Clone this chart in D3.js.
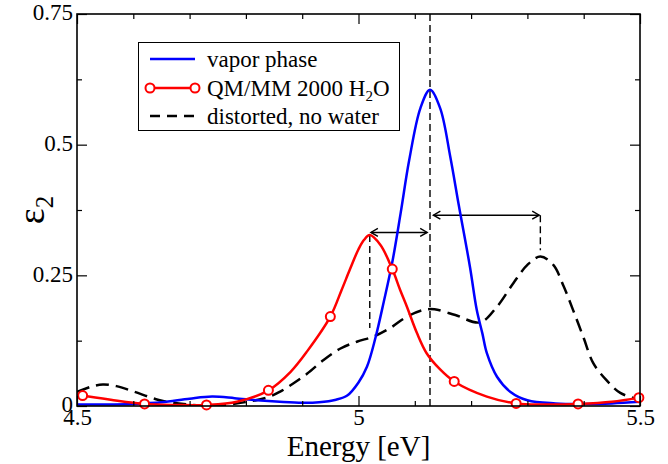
<!DOCTYPE html>
<html>
<head>
<meta charset="utf-8">
<script src="https://cdn.jsdelivr.net/npm/d3@7"></script>
<style>
  body { margin: 0; background: #fff; }
  svg { display: block; }
  text { font-family: "Liberation Serif", "DejaVu Serif", "Times New Roman", serif; fill: #000; }
</style>
</head>
<body>
<svg id="chart" width="668" height="464"></svg>
<script>
/* eps2 spectra: vapor, QM/MM, distorted */

const vaporE = [4.50, 4.55, 4.60, 4.65, 4.70, 4.74, 4.78, 4.82, 4.86, 4.90, 4.93, 4.96, 4.98, 5.00, 5.015, 5.03, 5.045, 5.06, 5.075, 5.09, 5.11, 5.127, 5.145, 5.163, 5.178, 5.198, 5.21, 5.22, 5.228, 5.246, 5.27, 5.30, 5.35, 5.40, 5.45, 5.50];
const vaporV = [0.003, 0.003, 0.004, 0.007, 0.014, 0.018, 0.015, 0.011, 0.008, 0.006, 0.007, 0.012, 0.02, 0.045, 0.075, 0.13, 0.2, 0.275, 0.37, 0.47, 0.57, 0.605, 0.57, 0.477, 0.385, 0.266, 0.184, 0.139, 0.101, 0.056, 0.027, 0.011, 0.005, 0.004, 0.005, 0.008];

const qmmmE = [4.50, 4.51, 4.56, 4.62, 4.677, 4.73, 4.784, 4.84, 4.879, 4.909, 4.95, 4.97, 4.985, 5.00, 5.01, 5.02, 5.039, 5.06, 5.074, 5.086, 5.104, 5.121, 5.145, 5.17, 5.228, 5.28, 5.33, 5.39, 5.45, 5.498];
const qmmmV = [0.022, 0.020, 0.012, 0.004, 0.002, 0.002, 0.008, 0.03, 0.065, 0.105, 0.171, 0.222, 0.262, 0.3, 0.318, 0.327, 0.308, 0.262, 0.222, 0.19, 0.139, 0.101, 0.07, 0.047, 0.018, 0.005, 0.003, 0.004, 0.008, 0.016];
const markE = [4.51, 4.62, 4.73, 4.84, 4.95, 5.06, 5.17, 5.28, 5.39, 5.498];

const distE = [4.50, 4.525, 4.546, 4.57, 4.60, 4.647, 4.695, 4.74, 4.79, 4.837, 4.86, 4.884, 4.909, 4.938, 4.968, 4.997, 5.027, 5.056, 5.086, 5.116, 5.135, 5.172, 5.216, 5.246, 5.275, 5.30, 5.323, 5.346, 5.364, 5.381, 5.40, 5.417, 5.44, 5.465, 5.50];
const distV = [0.027, 0.037, 0.041, 0.038, 0.028, 0.011, 0.003, 0.0, 0.006, 0.016, 0.027, 0.043, 0.062, 0.088, 0.11, 0.123, 0.133, 0.149, 0.171, 0.184, 0.185, 0.174, 0.16, 0.19, 0.235, 0.27, 0.286, 0.27, 0.23, 0.184, 0.13, 0.082, 0.05, 0.025, 0.012];

const xMajor = [4.5, 5, 5.5];
const xMinor = [4.6, 4.7, 4.8, 4.9, 5.1, 5.2, 5.3, 5.4];
const yMajor = [0, 0.25, 0.5, 0.75];
const yMinor = [0.125, 0.375, 0.625];

// vertical reference line and shift arrows
const vlineE = 5.127;
const dropLines = [{ e: 5.02, y0: 0.327, y1: 0.149 }, { e: 5.323, y0: 0.365, y1: 0.298 }];
const arrows = [{ e0: 5.022, e1: 5.122, v: 0.332 }, { e0: 5.133, e1: 5.321, v: 0.365 }];

const legendNames = ["vapor phase", "QM/MM 2000 H", "distorted, no water"];

const W = 668, H = 464;
const M = { top: 14, right: 28, bottom: 58, left: 77 };

const svg = d3.select("#chart");
const x = d3.scaleLinear().domain([4.5, 5.5]).range([M.left, W - M.right]);
const y = d3.scaleLinear().domain([0, 0.75]).range([H - M.bottom, M.top]);

const toPts = (es, vs) => es.map((e, i) => [e, vs[i]]);
const line = d3.line().x((d) => x(d[0])).y((d) => y(d[1])).curve(d3.curveCatmullRom.alpha(0.5));

const pBottom = y(0), pTop = y(0.75), pLeft = x(4.5), pRight = x(5.5);

const plot = svg.append("g");
plot.append("clipPath").attr("id", "clip")
  .append("rect").attr("x", pLeft).attr("y", pTop)
  .attr("width", pRight - pLeft).attr("height", pBottom - pTop);

/* ---------- reference lines ---------- */
plot.append("line")
  .attr("x1", x(vlineE)).attr("x2", x(vlineE))
  .attr("y1", pTop).attr("y2", pBottom)
  .attr("stroke", "#000").attr("stroke-width", 1.4).attr("stroke-dasharray", "7,4");

dropLines.forEach((d) => {
  plot.append("line")
    .attr("x1", x(d.e)).attr("x2", x(d.e))
    .attr("y1", y(d.y0)).attr("y2", y(d.y1))
    .attr("stroke", "#000").attr("stroke-width", 1.4).attr("stroke-dasharray", "7,4");
});

arrows.forEach((a) => {
  const x0 = x(a.e0), x1 = x(a.e1), yy = y(a.v);
  const g = plot.append("g").attr("stroke", "#000").attr("stroke-width", 1.4).attr("fill", "none");
  g.append("line").attr("x1", x0).attr("x2", x1).attr("y1", yy).attr("y2", yy);
  g.append("path").attr("d", `M${x0 + 7},${yy - 4}L${x0},${yy}L${x0 + 7},${yy + 4}`);
  g.append("path").attr("d", `M${x1 - 7},${yy - 4}L${x1},${yy}L${x1 - 7},${yy + 4}`);
});

/* ---------- curves ---------- */
const curves = plot.append("g").attr("clip-path", "url(#clip)");
curves.append("path").datum(toPts(distE, distV))
  .attr("d", line).attr("fill", "none").attr("stroke", "#000")
  .attr("stroke-width", 2.5).attr("stroke-dasharray", "13,7");
curves.append("path").datum(toPts(vaporE, vaporV))
  .attr("d", line).attr("fill", "none").attr("stroke", "#0000ff").attr("stroke-width", 2.5);
curves.append("path").datum(toPts(qmmmE, qmmmV))
  .attr("d", line).attr("fill", "none").attr("stroke", "#ff0000").attr("stroke-width", 2.5);

plot.append("g").selectAll("circle")
  .data(markE)
  .join("circle")
  .attr("cx", (e) => x(e))
  .attr("cy", (e) => y(qmmmV[qmmmE.indexOf(e)]))
  .attr("r", 4.5)
  .attr("fill", "#fff").attr("stroke", "#ff0000").attr("stroke-width", 2);

/* ---------- axes (inward ticks, all four sides) ---------- */
function styleAxis(g) {
  g.select(".domain").remove();
  g.selectAll("line").attr("stroke", "#000").attr("stroke-width", 1.2);
  g.selectAll("text").attr("font-size", 23).attr("font-family", "Liberation Serif, DejaVu Serif, serif");
}

svg.append("g").attr("transform", `translate(0,${pBottom})`)
  .call(d3.axisBottom(x).tickValues(xMajor).tickSize(-10).tickPadding(3).tickFormat(d3.format("")))
  .call(styleAxis);
svg.append("g").attr("transform", `translate(0,${pBottom})`)
  .call(d3.axisBottom(x).tickValues(xMinor).tickSize(-5).tickFormat(""))
  .call(styleAxis);
svg.append("g").attr("transform", `translate(0,${pTop})`)
  .call(d3.axisTop(x).tickValues(xMajor).tickSize(-10).tickFormat(""))
  .call(styleAxis);
svg.append("g").attr("transform", `translate(0,${pTop})`)
  .call(d3.axisTop(x).tickValues(xMinor).tickSize(-5).tickFormat(""))
  .call(styleAxis);

svg.append("g").attr("transform", `translate(${pLeft},0)`)
  .call(d3.axisLeft(y).tickValues(yMajor).tickSize(-10).tickPadding(4).tickFormat(d3.format("")))
  .call(styleAxis)
  .call((g) => g.selectAll("text").attr("dy", "0.25em"));
svg.append("g").attr("transform", `translate(${pLeft},0)`)
  .call(d3.axisLeft(y).tickValues(yMinor).tickSize(-5).tickFormat(""))
  .call(styleAxis);
svg.append("g").attr("transform", `translate(${pRight},0)`)
  .call(d3.axisRight(y).tickValues(yMajor).tickSize(-10).tickFormat(""))
  .call(styleAxis);
svg.append("g").attr("transform", `translate(${pRight},0)`)
  .call(d3.axisRight(y).tickValues(yMinor).tickSize(-5).tickFormat(""))
  .call(styleAxis);

svg.append("rect")
  .attr("x", pLeft).attr("y", pTop).attr("width", pRight - pLeft).attr("height", pBottom - pTop)
  .attr("fill", "none").attr("stroke", "#000").attr("stroke-width", 1.6);

/* ---------- axis titles ---------- */
svg.append("text")
  .attr("x", (pLeft + pRight) / 2).attr("y", 456)
  .attr("text-anchor", "middle").attr("font-size", 29)
  .text("Energy [eV]");

const yl = svg.append("text")
  .attr("transform", `translate(44,${(pTop + pBottom) / 2}) rotate(-90)`)
  .attr("text-anchor", "middle").attr("font-size", 38);
yl.append("tspan").text("ε");
yl.append("tspan").attr("dy", 9).attr("font-size", 25).text("2");

/* ---------- legend ---------- */
const lg = svg.append("g");
lg.append("rect").attr("x", 138.5).attr("y", 42.5).attr("width", 261).attr("height", 88)
  .attr("fill", "#fff").attr("stroke", "#000").attr("stroke-width", 1);
const rowY = [59, 88, 116];
const lx0 = 150, lx1 = 195;
lg.append("line").attr("x1", lx0).attr("x2", lx1).attr("y1", rowY[0]).attr("y2", rowY[0])
  .attr("stroke", "#0000ff").attr("stroke-width", 2.5);
lg.append("line").attr("x1", lx0).attr("x2", lx1).attr("y1", rowY[1]).attr("y2", rowY[1])
  .attr("stroke", "#ff0000").attr("stroke-width", 2.5);
[lx0, lx1].forEach((cx) => lg.append("circle").attr("cx", cx).attr("cy", rowY[1]).attr("r", 4.5)
  .attr("fill", "#fff").attr("stroke", "#ff0000").attr("stroke-width", 2));
lg.append("line").attr("x1", lx0).attr("x2", lx1).attr("y1", rowY[2]).attr("y2", rowY[2])
  .attr("stroke", "#000").attr("stroke-width", 2.5).attr("stroke-dasharray", "10,7");

legendNames.forEach((name, i) => {
  const t = lg.append("text").attr("x", 207).attr("y", rowY[i] + 8).attr("font-size", 23).text(name);
  if (i === 1) {
    t.append("tspan").attr("dy", 5).attr("font-size", 15).text("2");
    t.append("tspan").attr("dy", -5).text("O");
  }
});
</script>
</body>
</html>
